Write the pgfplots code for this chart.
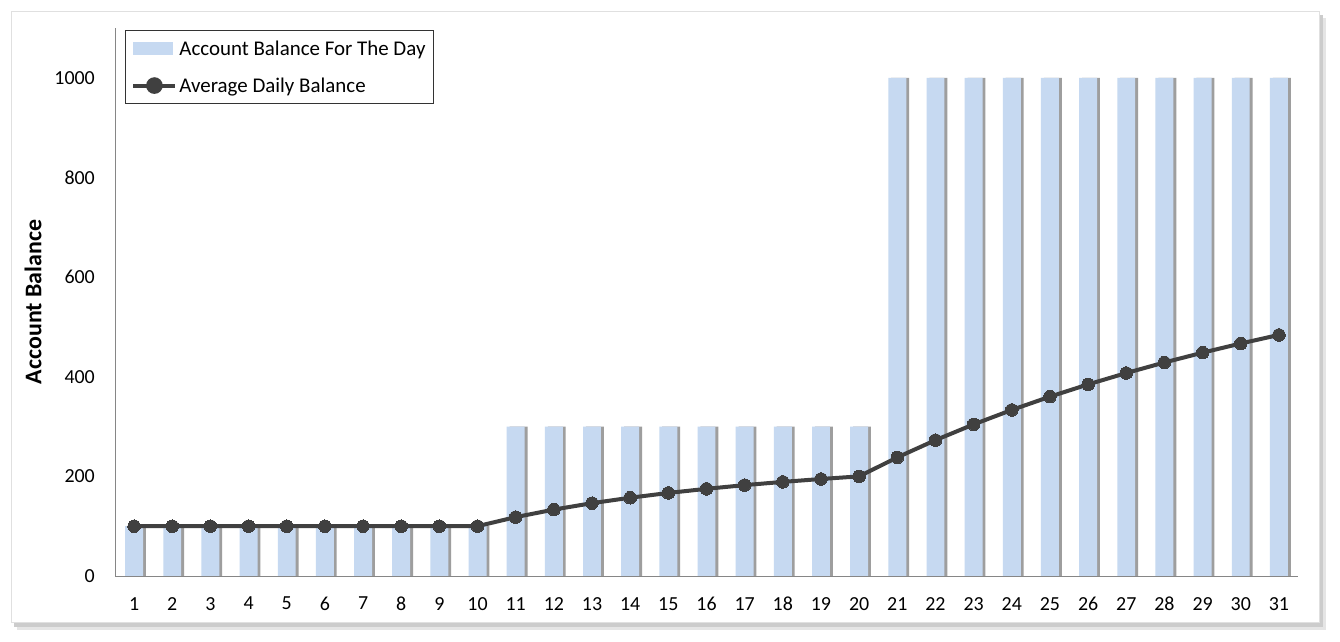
\documentclass[border=0pt]{standalone}
\usepackage{pgfplots}
\usepackage{pgfplotstable}
\pgfplotsset{compat=1.18}
\usepackage{fontspec}
\setmainfont{Carlito}
\definecolor{barblue}{HTML}{C6D9F1}
\definecolor{linegray}{HTML}{404040}
\definecolor{axgray}{HTML}{868686}
\pgfplotstableread{
day balance avg
1 100 100
2 100 100
3 100 100
4 100 100
5 100 100
6 100 100
7 100 100
8 100 100
9 100 100
10 100 100
11 300 118.2
12 300 133.3
13 300 146.2
14 300 157.1
15 300 166.7
16 300 175.0
17 300 182.4
18 300 188.9
19 300 194.7
20 300 200.0
21 1000 238.1
22 1000 272.7
23 1000 304.3
24 1000 333.3
25 1000 360.0
26 1000 384.6
27 1000 407.4
28 1000 428.6
29 1000 448.3
30 1000 466.7
31 1000 483.9
}\datatable
\begin{document}
\begin{tikzpicture}
\path (0bp,0bp) rectangle (1340bp,642bp);
% frame shadow
\fill[black!10] (17bp,12bp) rectangle (1326bp,624bp);
\fill[black!20] (14bp,15bp) rectangle (1323bp,627bp);
\filldraw[fill=white, draw=black!12] (11bp,20bp) rectangle (1319bp,631bp);
\begin{axis}[
  at={(115bp,66bp)}, anchor=south west,
  scale only axis, width=1183bp, height=548bp,
  xmin=0.5, xmax=31.5, ymin=0, ymax=1100,
  xtick={1,...,31}, ytick={0,200,...,1000},
  axis x line*=bottom, axis y line*=left,
  axis line style={draw=axgray, line width=1bp, -},
  major tick length=0pt,
  font=\fontsize{20}{24}\selectfont,
  /pgf/number format/assume math mode=true,
  /pgf/number format/1000 sep={},
  yticklabel style={inner sep=0pt, xshift=-20bp},
  xticklabel style={inner sep=0pt, yshift=-21bp},
  ylabel={\bfseries Account\ Balance},
  ylabel style={at={(axis description cs:-0.0693,0.5)}, anchor=center, font=\fontsize{24}{28}\selectfont},
  legend style={at={(rel axis cs:0.0085,0.996)}, anchor=north west, draw=black!80, line width=0.75bp,
    font=\fontsize{21}{25}\selectfont, inner xsep=6bp, inner ysep=8bp, row sep=17bp},
  legend cell align=left,
]
% bar shadows
\addplot[ybar, bar width=0.47, bar shift=0.075, fill=black!38, draw=none, forget plot]
  table[x=day, y=balance] {\datatable};
\addplot[ybar, bar width=0.47, fill=barblue, draw=none,
  legend image code/.code={\fill[barblue] (0bp,-6.5bp) rectangle (40bp,6.5bp);}]
  table[x=day, y=balance] {\datatable};
\addlegendentry{Account Balance For The Day}
\addplot[linegray, line width=4bp, mark=*, mark size=6.3bp, mark options={fill=linegray, draw=linegray, line width=0bp},
  legend image code/.code={\draw[linegray, line width=4bp] (0bp,0bp) -- (42bp,0bp); \fill[linegray] (21bp,0bp) circle (6.3bp);}]
  table[x=day, y=avg] {\datatable};
\addlegendentry{Average Daily Balance}
\end{axis}
\end{tikzpicture}
\end{document}
